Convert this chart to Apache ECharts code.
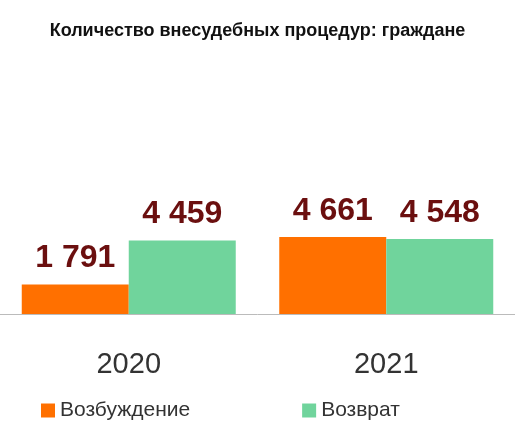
<!DOCTYPE html>
<html><head><meta charset="utf-8">
<script src="https://cdn.jsdelivr.net/npm/echarts@6/dist/echarts.min.js"></script>
<style>html,body{margin:0;padding:0;background:#fff}#c{width:515px;height:442px}</style>
</head><body><div id="c"></div>
<script>
const categories = ['2020', '2021'];
const seriesNames = ['Возбуждение', 'Возврат'];
const initiated = [1791, 4661];
const returned = [4459, 4548];
const chart = echarts.init(document.getElementById('c'));
const fmt = p => String(p.value).replace(/\B(?=(\d{3})+(?!\d))/g, ' ');
const label = {show: true, position: 'top', distance: 10, formatter: fmt, color: '#6B0F0F', fontSize: 32, fontWeight: 'bold', fontFamily: 'Liberation Sans'};
chart.setOption({
  animation: false,
  title: {text: 'Количество внесудебных процедур: граждане', left: 'center', top: 17,
    textStyle: {fontSize: 18, fontWeight: 'bold', color: '#111', fontFamily: 'Liberation Sans'}},
  legend: {bottom: 16, left: 36, itemGap: 112, itemWidth: 14, itemHeight: 14, icon: 'rect',
    textStyle: {fontSize: 21, color: '#333', fontFamily: 'Liberation Sans'}},
  grid: {left: -11, right: -9, top: 50, bottom: 128},
  xAxis: {type: 'category', data: categories,
    axisLine: {lineStyle: {color: '#bbb'}}, axisTick: {show: false},
    axisLabel: {fontSize: 29, color: '#333', margin: 36, fontFamily: 'Liberation Sans'}},
  yAxis: {type: 'value', min: 0, max: 16000, show: false, splitLine: {show: false}},
  series: [
    {name: seriesNames[0], type: 'bar', data: initiated, barGap: 0, barWidth: 107, itemStyle: {color: '#FF7000'}, label},
    {name: seriesNames[1], type: 'bar', data: returned, barWidth: 107, itemStyle: {color: '#70D49C'}, label}
  ]
});
</script></body></html>
